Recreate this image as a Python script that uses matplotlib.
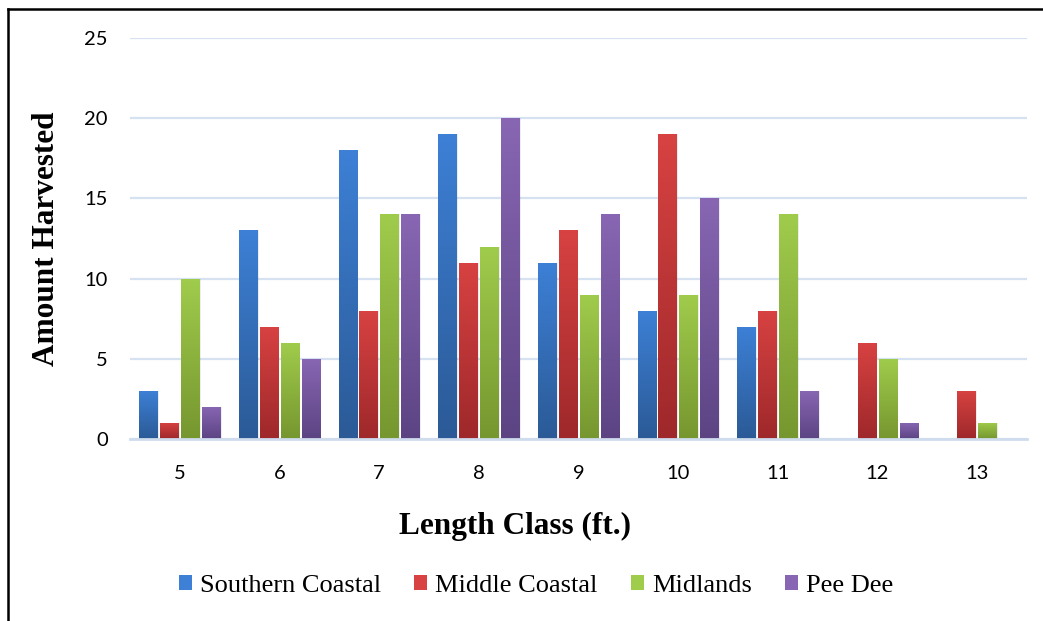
import numpy as np
import matplotlib
matplotlib.use('Agg')
import matplotlib.pyplot as plt
from matplotlib.colors import LinearSegmentedColormap
from matplotlib.patches import Patch
from matplotlib.lines import Line2D

# Harvest counts by length class and region
length_classes = ['5', '6', '7', '8', '9', '10', '11', '12', '13']
southern_coastal = [3, 13, 18, 19, 11, 8, 7, 0, 0]
middle_coastal = [1, 7, 8, 11, 13, 19, 8, 6, 3]
midlands = [10, 6, 14, 12, 9, 9, 14, 5, 1]
pee_dee = [2, 5, 14, 20, 14, 15, 3, 1, 0]

series = [
    ('Southern Coastal', southern_coastal, '#3d80d6', '#2b5a96'),
    ('Middle Coastal', middle_coastal, '#d84242', '#9e282a'),
    ('Midlands', midlands, '#a0cc4c', '#76962f'),
    ('Pee Dee', pee_dee, '#8866b3', '#5c4483'),
]

fig = plt.figure(figsize=(10.43, 6.21), dpi=100)
ax = fig.add_axes([130/1043, 182/621, 897/1043, 401/621])

x = np.arange(len(length_classes))
slot = 0.21
width = 0.185
grad = np.linspace(0, 1, 256).reshape(-1, 1)

for i, (name, vals, top, bottom) in enumerate(series):
    cmap = LinearSegmentedColormap.from_list(name, [bottom, top])
    offs = x + (i - 1.5) * slot
    # soft drop shadow
    ax.bar(offs + 0.012, vals, width, color='#000000', alpha=0.07, zorder=2, linewidth=0)
    bars = ax.bar(offs, vals, width, color=top, zorder=3, linewidth=0)
    for b in bars:
        h = b.get_height()
        if h <= 0:
            continue
        x0 = b.get_x()
        im = ax.imshow(grad, cmap=cmap, origin='lower', aspect='auto',
                       extent=[x0, x0 + width, 0, h], zorder=4)
        im.set_clip_path(b)

ax.set_xlim(-0.5, len(length_classes) - 0.5)
ax.set_ylim(0, 25)
ax.set_aspect('auto')
ax.set_yticks([0, 5, 10, 15, 20, 25])
ax.set_xticks(x)
ax.set_xticklabels(length_classes)
ax.grid(axis='y', color='#d6e2f2', linewidth=1.6, zorder=0)
ax.set_axisbelow(True)
for s in ['top', 'right', 'left']:
    ax.spines[s].set_visible(False)
ax.spines['bottom'].set_color('#cfdcee')
ax.spines['bottom'].set_linewidth(2)
ax.spines['bottom'].set_zorder(5)
ax.tick_params(length=0, labelsize=14.5)
ax.tick_params(axis='y', pad=16)
ax.tick_params(axis='x', pad=19)
for lbl in ax.get_xticklabels() + ax.get_yticklabels():
    lbl.set_fontfamily('Lato')

fig.text(47/1043, 1 - 239/621, 'Amount Harvested', rotation=90,
         ha='center', va='center', fontsize=22.5, fontweight='bold',
         family='Liberation Serif')
fig.text(515/1043, 1 - 526/621, 'Length Class (ft.)', ha='center', va='center',
         fontsize=22.5, fontweight='bold', family='Liberation Serif')

handles = [Patch(facecolor=s[2], edgecolor='none') for s in series]
leg = fig.legend(handles, [s[0] for s in series], loc='center', ncol=4,
                 bbox_to_anchor=(536/1043, 1 - 586/621), frameon=False,
                 prop={'family': 'Liberation Serif', 'size': 19},
                 handlelength=0.5, handleheight=0.5, handletextpad=0.3,
                 columnspacing=1.25)

# outer frame
fig.add_artist(Line2D([7.5/1043, 7.5/1043], [0, 1 - 8.5/621], color='black', lw=1.8,
                      transform=fig.transFigure))
fig.add_artist(Line2D([7.5/1043, 1], [1 - 8.5/621, 1 - 8.5/621], color='black', lw=1.8,
                      transform=fig.transFigure))

fig.savefig('out.png', dpi=100)
